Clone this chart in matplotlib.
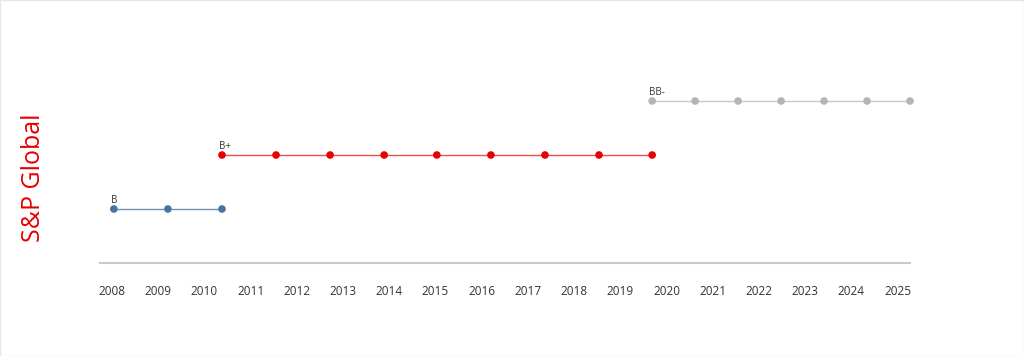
import matplotlib.pyplot as plt
from matplotlib.patches import Rectangle

# rating history (fractional year of each point)
ratings = ['B', 'B+', 'BB-']
levels = [1, 2, 3]
b_years = [2008.04, 2009.21, 2010.38]
bplus_years = [2010.38, 2011.55, 2012.72, 2013.89, 2015.03, 2016.2, 2017.37, 2018.54, 2019.69]
bbminus_years = [2019.69, 2020.62, 2021.55, 2022.48, 2023.41, 2024.34, 2025.27]
years = list(range(2008, 2026))

series = [b_years, bplus_years, bbminus_years]
dot_colors = ['#44749f', '#e60000', '#b4b4b4']
line_colors = ['#6d8fb3', '#e8514f', '#c8c8c8']

plt.rcParams['font.family'] = ['Open Sans', 'DejaVu Sans']

fig = plt.figure(figsize=(10.24, 3.56), dpi=100)
ax = fig.add_axes([100 / 1024, 93 / 356, 810 / 1024, 189 / 356])

for label, lvl, xs, dc, lc in zip(ratings, levels, series, dot_colors, line_colors):
    ax.plot(xs, [lvl] * len(xs), color=lc, lw=1, zorder=1)
    ax.scatter(xs, [lvl] * len(xs), s=30, color=dc, zorder=2, edgecolors='none')
    ax.annotate(label, (xs[0], lvl), xytext=(-2, 2.5), textcoords='offset points',
                fontsize=7, color='#333333', ha='left', va='bottom')

ax.set_xlim(2007.74, 2025.27)
ax.set_ylim(0, 3.5)
ax.set_xticks(years)
ax.set_xticklabels([str(y) for y in years], fontsize=8.5, color='#333333')
ax.tick_params(axis='x', length=0, pad=16)
ax.set_yticks([])
for s in ['top', 'left', 'right']:
    ax.spines[s].set_visible(False)
ax.spines['bottom'].set_color('#c8c8c8')
ax.spines['bottom'].set_linewidth(1.5)
for c in ax.collections:
    c.set_clip_on(False)

fig.text(33 / 1024, 1 - 178 / 356, 'S&P Global', rotation=90, color='#e60000',
         fontsize=18, ha='center', va='center')

fig.patches.append(Rectangle((0, 0), 1, 1, transform=fig.transFigure, fill=False,
                             edgecolor='#e6e6e6', lw=1))

fig.savefig('out.png', dpi=100)
